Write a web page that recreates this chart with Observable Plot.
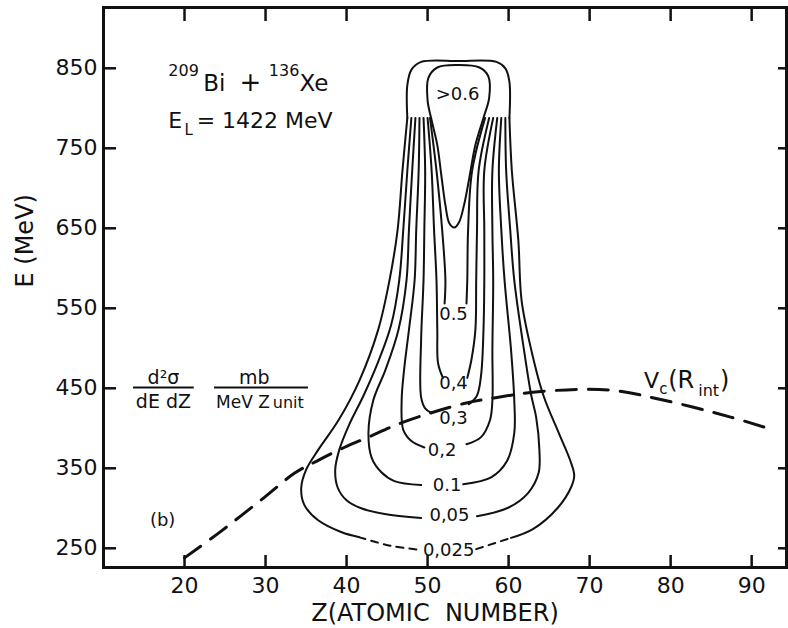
<!DOCTYPE html>
<html><head><meta charset="utf-8">
<script src="https://cdn.jsdelivr.net/npm/d3@7"></script>
<script src="https://cdn.jsdelivr.net/npm/@observablehq/plot@0.6"></script>
<style>
html,body{margin:0;padding:0;background:#fff;}
#chart svg{display:block;}
</style></head><body><div id="chart"></div>
<script>
// Axis ticks
const xTicks = [20, 30, 40, 50, 60, 70, 80, 90];
const yTicks = [250, 350, 450, 550, 650, 750, 850];

// Contour branches [Z, E (MeV)] (left branch top→bottom, right branch bottom→top)
const c0025L  = [[47.5,788],[46.9,722],[46.3,648],[45.3,585],[43.9,523],[41.6,460],[39.0,410],[36.5,373],[35.0,348],[34.4,325],[34.8,304],[36.5,285],[39.4,270],[41.5,264]];
const c0025Ld = [[41.5,264],[45.5,253],[49.2,248]];
const c0025Rd = [[56.0,249],[60.3,263]];
const c0025R  = [[60.3,263],[63.0,274],[66.1,301],[67.7,326],[68.1,341],[67.6,360],[66.2,394],[64.3,441],[62.8,498],[61.6,560],[61.2,635],[60.4,722],[60.1,788]];
const c005L = [[48.0,788],[47.5,722],[47.0,648],[46.5,585],[45.5,529],[43.9,483],[42.1,441],[40.3,404],[39.1,373],[38.6,348],[38.9,326],[40.0,310],[41.8,300],[44.7,293],[49.2,288]];
const c005R = [[56.1,290],[60.0,301],[62.4,319],[63.7,344],[63.8,373],[63.4,414],[62.8,441],[61.9,498],[60.7,585],[60.2,648],[59.7,722],[59.6,788]];
const c01L = [[48.5,788],[48.1,722],[47.7,648],[47.4,585],[46.4,523],[44.8,473],[43.3,435],[42.7,394],[43.1,363],[44.3,345],[45.9,334],[49.2,329]];
const c01R = [[54.4,330],[57.9,339],[59.8,359],[60.7,394],[60.7,435],[60.3,498],[59.5,585],[59.1,648],[58.8,722],[59.1,788]];
const c02L = [[49.0,788],[48.9,722],[48.6,648],[48.4,585],[47.7,523],[47.1,473],[46.8,435],[47.0,398],[48.0,384],[49.6,376]];
const c02R = [[54.8,380],[56.6,389],[57.7,410],[58.0,435],[58.0,498],[58.1,585],[58.0,648],[58.0,722],[58.6,788]];
const c03L = [[49.5,788],[49.7,722],[49.6,648],[49.5,585],[49.2,510],[49.2,439],[49.7,425],[50.5,419]];
const c03R = [[55.1,430],[56.1,441],[56.6,466],[56.9,523],[57.0,585],[57.0,648],[57.0,722],[58.1,788]];
const c04L = [[50.0,788],[50.5,722],[50.8,648],[51.1,585],[51.2,523],[51.3,481],[51.9,463]];
const c04R = [[54.9,463],[55.4,485],[55.9,523],[56.0,585],[56.1,648],[56.3,722],[57.6,788]];
const c05L = [[50.3,788],[51.1,722],[51.8,648],[52.2,585],[52.1,556]];
const c05R = [[54.8,556],[54.9,585],[55.0,648],[55.5,722],[57.1,788]];
const capTop = [[47.5,788],[47.5,829],[48.0,848],[49.2,858],[53.8,859],[58.5,858],[59.6,850],[60.1,833],[60.1,788]];
const teardrop06 = [[50.0,810],[50.1,838],[51.2,851],[53.8,854],[56.4,851],[57.5,840],[57.6,813],[56.9,788],[55.9,754],[55.1,710],[54.5,679],[53.9,658],[53.3,651],[52.7,656],[52.2,679],[51.7,716],[51.2,754],[50.5,785]];

// Coulomb barrier Vc(Rint)
const vcCurve = [[20,238],[24.2,269],[29.9,314],[33.6,344],[36.5,360],[39.7,376],[42.7,389],[47.1,408],[54.5,431],[58.2,438],[64,446],[72.3,448],[79.2,435],[87.4,414],[92,400]];

// Contour labels
const contourLabels = [">0.6", "0.5", "0,4", "0,3", "0,2", "0.1", "0,05", "0,025"];
const labelZ = [53.7, 53.2, 53.2, 53.2, 51.8, 52.4, 52.7, 52.6];
const labelE = [817, 542, 456, 413, 373, 329, 291, 248];

const solidSegs = {c0025L, c0025R, c005L, c005R, c01L, c01R, c02L, c02R, c03L, c03R, c04L, c04R, c05L, c05R, capTop};
const dashSegs = {c0025Ld, c0025Rd};
const toRows = obj => Object.entries(obj).flatMap(([id, pts]) => pts.map(([Z, E]) => ({id, Z, E})));
const solidRows = toRows(solidSegs);
const dashRows = toRows(dashSegs);

const ink = "#111";
const T = (txt, opts) => Plot.text([txt], {text: d => d, fill: ink, ...opts});

const chart = Plot.plot({
  width: 788,
  height: 628,
  marginLeft: 103,
  marginRight: 2,
  marginTop: 7,
  marginBottom: 61,
  x: {domain: [10, 94.3], ticks: xTicks, tickSize: 0, tickPadding: 10, label: null, tickFormat: d => String(d)},
  y: {domain: [226, 926], ticks: yTicks, tickSize: 0, tickPadding: 6, label: null, tickFormat: d => String(d)},
  style: {fontFamily: "'DejaVu Sans', sans-serif", fontSize: "22px", color: ink, background: "#fff"},
  marks: [
    Plot.frame({stroke: ink, strokeWidth: 3}),
    // inward ticks
    Plot.tickX(xTicks, {x: d => d, insetTop: 548, stroke: ink, strokeWidth: 2.5}),
    Plot.tickX(xTicks, {x: d => d, insetBottom: 546, stroke: ink, strokeWidth: 2.5}),
    Plot.tickY(yTicks, {y: d => d, insetRight: 670, stroke: ink, strokeWidth: 2.5}),
    Plot.tickY(yTicks, {y: d => d, insetLeft: 675, stroke: ink, strokeWidth: 2.5}),
    // contours
    Plot.line(solidRows, {x: "Z", y: "E", z: "id", curve: "catmull-rom", stroke: ink, strokeWidth: 2}),
    Plot.line(dashRows, {x: "Z", y: "E", z: "id", curve: "catmull-rom", stroke: ink, strokeWidth: 2, strokeDasharray: "7,6"}),
    Plot.line(teardrop06, {x: d => d[0], y: d => d[1], curve: "catmull-rom-closed", stroke: ink, strokeWidth: 2}),
    // Vc
    Plot.line(vcCurve, {x: d => d[0], y: d => d[1], curve: "catmull-rom", stroke: ink, strokeWidth: 3, strokeDasharray: "20,12"}),
    // contour labels
    Plot.text(contourLabels, {x: (d, i) => labelZ[i], y: (d, i) => labelE[i], text: d => d, fontSize: 18, fill: ink}),
    // title block
    T("209", {x: 18.0, y: 841, textAnchor: "start", lineAnchor: "bottom", fontSize: 16}),
    T("Bi", {x: 22.3, y: 822, textAnchor: "start", lineAnchor: "bottom", fontSize: 23}),
    T("+", {x: 26.8, y: 822, textAnchor: "start", lineAnchor: "bottom", fontSize: 26}),
    T("136", {x: 30.4, y: 841, textAnchor: "start", lineAnchor: "bottom", fontSize: 16}),
    T("Xe", {x: 34.2, y: 822, textAnchor: "start", lineAnchor: "bottom", fontSize: 23}),
    T("E", {x: 18.0, y: 775, textAnchor: "start", lineAnchor: "bottom", fontSize: 22}),
    T("L", {x: 20.0, y: 767, textAnchor: "start", lineAnchor: "bottom", fontSize: 15}),
    T("= 1422 MeV", {x: 21.5, y: 775, textAnchor: "start", lineAnchor: "bottom", fontSize: 22}),
    // units
    T("d²σ", {x: 17.4, y: 456, lineAnchor: "bottom", fontSize: 19}),
    Plot.ruleY([451], {x1: 13.7, x2: 21.2, stroke: ink, strokeWidth: 2}),
    T("dE dZ", {x: 17.4, y: 425, lineAnchor: "bottom", fontSize: 19}),
    T("mb", {x: 28.6, y: 456, lineAnchor: "bottom", fontSize: 19}),
    Plot.ruleY([451], {x1: 23.7, x2: 35.3, stroke: ink, strokeWidth: 2}),
    T("MeV Z", {x: 23.9, y: 425, textAnchor: "start", lineAnchor: "bottom", fontSize: 17}),
    T("unit", {x: 30.9, y: 425, textAnchor: "start", lineAnchor: "bottom", fontSize: 16}),
    T("(b)", {x: 17.3, y: 285, fontSize: 18}),
    // Vc(Rint)
    T("V", {x: 76.7, y: 450, textAnchor: "start", lineAnchor: "bottom", fontSize: 22}),
    T("c", {x: 78.6, y: 443, textAnchor: "start", lineAnchor: "bottom", fontSize: 15}),
    T("(R", {x: 79.7, y: 450, textAnchor: "start", lineAnchor: "bottom", fontSize: 24}),
    T("int", {x: 83.4, y: 441, textAnchor: "start", lineAnchor: "bottom", fontSize: 16}),
    T(")", {x: 86.1, y: 450, textAnchor: "start", lineAnchor: "bottom", fontSize: 24}),
    // axis titles
    T("Z(ATOMIC\u00a0\u00a0NUMBER)", {frameAnchor: "bottom", lineAnchor: "middle", dx: -10, dy: 46, fontSize: 24}),
    T("E (MeV)", {frameAnchor: "left", lineAnchor: "middle", dx: -78, rotate: -90, fontSize: 24})
  ]
});
document.getElementById("chart").appendChild(chart);
</script>
</body></html>
